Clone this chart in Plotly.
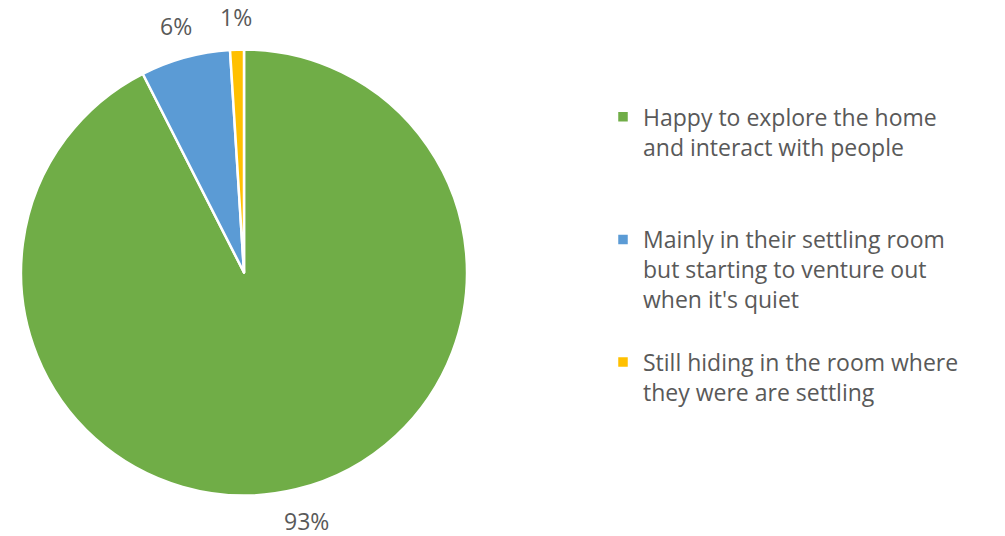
import math
import plotly.graph_objects as go

labels = [
    "Happy to explore the home<br>and interact with people<br> <br> ",
    "Mainly in their settling room<br>but starting to venture out<br>when it's quiet<br> ",
    "Still hiding in the room where<br>they were are settling",
]
values = [92.5, 6.5, 1.0]
text_labels = ["93%", "6%", "1%"]
colors = ["#70AD47", "#5B9BD5", "#FFC000"]

W, H = 1005, 536
CX, CY, R = 244, 272.5, 223  # pie centre / radius in figure px

fig = go.Figure(go.Pie(
    labels=labels,
    values=values,
    textinfo="none",
    sort=False,
    direction="clockwise",
    rotation=0,
    marker=dict(colors=colors, line=dict(color="white", width=2.5)),
    domain=dict(x=[(CX - R) / W, (CX + R) / W], y=[(H - CY - R) / H, (H - CY + R) / H]),
    hoverinfo="skip",
))

# data labels placed outside each slice at its mid-angle
total = sum(values)
cum = 0.0
for v, t in zip(values, text_labels):
    mid = (cum + v / 2) / total * 2 * math.pi
    cum += v
    sx, sy = math.sin(mid), -math.cos(mid)  # screen direction (y down)
    bw, bh = 15 * len(t) / 2, 12
    px = CX + sx * (R + 21) + sx * bw
    py = CY + sy * (R + 21) + sy * bh
    fig.add_annotation(
        x=px / W, y=1 - py / H, xref="paper", yref="paper",
        text=t, showarrow=False, xanchor="center", yanchor="middle",
        font=dict(family="Open Sans", size=23, color="#595959"),
    )

fig.update_layout(
    width=W, height=H,
    margin=dict(l=0, r=0, t=0, b=0),
    paper_bgcolor="white",
    showlegend=True,
    legend=dict(
        x=0.600, y=0.822, xanchor="left", yanchor="top",
        font=dict(family="Open Sans", size=23, color="#595959"),
        valign="top",
        itemwidth=30,
    ),
)

fig.write_html("out.html", config={"displayModeBar": False},
               post_script="document.body.style.margin='0';")
